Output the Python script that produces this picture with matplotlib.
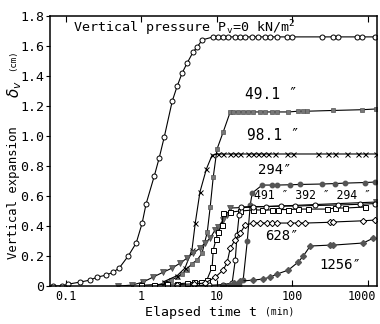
import matplotlib
matplotlib.use("Agg")
import matplotlib.pyplot as plt
import matplotlib.transforms as mtransforms

# P = 0 kN/m2 (open circles)
t_0 = [0.068, 0.09, 0.108, 0.156, 0.211, 0.261, 0.344, 0.426, 0.511, 0.673, 0.859,
       1.03, 1.16, 1.49, 1.73, 2.02, 2.58, 3.0, 3.49, 4.07, 4.88, 5.52, 6.43, 9.0,
       10.4, 12.2, 14.2, 17.6, 20.5, 23.8, 29.5, 35.5, 43.9, 51.1, 63.2, 85.9, 100,
       250, 349, 407, 726, 846, 1256]
d_0 = [0, 0, 0.013, 0.027, 0.04, 0.06, 0.073, 0.093, 0.12, 0.2, 0.287,
       0.42, 0.547, 0.733, 0.853, 0.993, 1.233, 1.333, 1.42, 1.487, 1.56, 1.593, 1.64, 1.66,
       1.66, 1.66, 1.66, 1.66, 1.66, 1.66, 1.66, 1.66, 1.66, 1.66, 1.66, 1.66, 1.66,
       1.66, 1.66, 1.66, 1.66, 1.66, 1.66]

# 49.1 kN/m2 (filled squares)
t_49 = [1.5, 2.0, 2.5, 3.0, 3.5, 4.0, 4.7, 5.5, 6.4, 7.5, 8.2, 9.0, 10.1, 12.2, 15.1,
        16.6, 19.2, 22.3, 25.8, 30.3, 37.6, 43.9, 54.3, 63.2, 88.8, 120, 140, 158, 350, 846, 1300]
d_49 = [0, 0.02, 0.04, 0.06, 0.08, 0.11, 0.15, 0.173, 0.22, 0.36, 0.527, 0.727, 0.913, 1.027, 1.16,
        1.16, 1.16, 1.16, 1.16, 1.16, 1.16, 1.16, 1.16, 1.16, 1.16, 1.165, 1.165, 1.165, 1.17, 1.175, 1.18]

# 98.1 kN/m2 (crosses)
t_98 = [2.0, 3.0, 3.8, 4.7, 5.2, 6.0, 7.3, 8.7, 10.4, 12.2, 15.1, 17.5, 20.5, 26.1, 30.5,
        35.5, 41.3, 48.0, 59.4, 85.9, 103, 220, 300, 370, 535, 745, 926, 1300]
d_98 = [0.03, 0.07, 0.12, 0.24, 0.42, 0.627, 0.78, 0.873, 0.88, 0.88, 0.88, 0.88, 0.88, 0.88, 0.88,
        0.88, 0.88, 0.88, 0.88, 0.88, 0.88, 0.88, 0.88, 0.88, 0.88, 0.88, 0.88, 0.88]

# 294 kN/m2, upper curve (small filled dots)
t_294a = [12, 15, 18, 20, 22.4, 25.4, 27.8, 29.5, 40, 54.3, 63.2, 94, 127, 250, 370, 505, 926, 1256]
d_294a = [0, 0, 0.005, 0.01, 0.04, 0.3, 0.54, 0.62, 0.673, 0.673, 0.673, 0.675, 0.677, 0.68,
          0.683, 0.686, 0.69, 0.693]

# 491 kN/m2 (filled inverted triangles)
t_491 = [0.5, 0.76, 1.06, 1.44, 1.96, 2.57, 3.28, 4.06, 4.88, 6.0, 7.0, 8.2, 9.5, 10.4, 12.2,
         13.8, 15.1, 1300]
d_491 = [0, 0.007, 0.027, 0.06, 0.093, 0.12, 0.153, 0.187, 0.22, 0.253, 0.287, 0.32, 0.373,
         0.393, 0.44, 0.473, 0.52, 0.56]

# 392 kN/m2 (open squares)
t_392 = [1.0, 1.5, 2.2, 3.0, 4.0, 5.0, 6.2, 7.4, 8.7, 9.0, 9.8, 10.4, 11.8, 12.2, 15.1, 20.5,
         30.5, 40, 54, 65, 89, 120, 163, 290, 370, 505, 926]
d_392 = [0.005, 0.01, 0.012, 0.015, 0.02, 0.025, 0.03, 0.04, 0.127, 0.24, 0.313, 0.36, 0.407,
         0.487, 0.493, 0.5, 0.507, 0.507, 0.507, 0.51, 0.51, 0.513, 0.513, 0.513, 0.52, 0.52, 0.527]

# 294 kN/m2, lower curve (open circles)
t_294b = [5, 8, 12, 16, 17.6, 18.6, 19.8, 21.1, 30, 45, 70, 110, 200, 400, 800, 1256]
d_294b = [0.005, 0.005, 0.01, 0.02, 0.173, 0.34, 0.473, 0.527, 0.53, 0.53, 0.533, 0.533,
          0.537, 0.54, 0.545, 0.55]

# 628 kN/m2 (open diamonds)
t_628 = [3, 5, 7, 9.6, 12.2, 13.8, 15.1, 17.5, 20.5, 23.8, 30.5, 37.6, 46.5, 54.3, 63.2, 94,
         120, 149, 318, 349, 870, 1256]
d_628 = [0.01, 0.015, 0.02, 0.06, 0.107, 0.16, 0.253, 0.307, 0.353, 0.407, 0.42, 0.42, 0.42,
         0.42, 0.42, 0.42, 0.42, 0.42, 0.425, 0.427, 0.435, 0.44]

# 1256 kN/m2 (filled diamonds)
t_1256 = [12, 15, 17, 20.5, 30.5, 41, 51, 63, 89, 120, 140, 173, 318, 350, 870, 1190]
d_1256 = [0.0, 0.01, 0.02, 0.033, 0.04, 0.047, 0.06, 0.08, 0.107, 0.16, 0.2, 0.267, 0.273,
          0.273, 0.287, 0.32]

mono = "DejaVu Sans Mono"
plt.rcParams["font.family"] = mono

fig = plt.figure(figsize=(3.8, 3.24), dpi=100)
ax = fig.add_axes([0.132, 0.117, 0.861, 0.834])

lw = 0.8
ax.plot(t_0, d_0, "-o", color="black", lw=lw, ms=3.6, mfc="white", mew=0.7)
ax.plot(t_49, d_49, "-s", color="black", lw=lw, ms=3.4, mfc="#777777", mec="#555555", mew=0.5)
ax.plot(t_98, d_98, "-x", color="black", lw=lw, ms=3.6, mew=0.7)
ax.plot(t_294a, d_294a, "-o", color="black", lw=lw, ms=3.2, mfc="#555555", mec="#555555")
ax.plot(t_491, d_491, "-v", color="black", lw=lw, ms=4, mfc="#666666", mec="#444444", mew=0.5)
ax.plot(t_392, d_392, "-s", color="black", lw=lw, ms=3.6, mfc="white", mew=0.7)
ax.plot(t_294b, d_294b, "-o", color="black", lw=lw, ms=3.6, mfc="white", mew=0.7)
ax.plot(t_628, d_628, "-D", color="black", lw=lw, ms=3.2, mfc="white", mew=0.7)
ax.plot(t_1256, d_1256, "-D", color="black", lw=lw, ms=3.0, mfc="#555555", mec="#555555")

ax.set_xscale("log")
ax.set_xlim(0.0623, 1340)
ax.set_ylim(0, 1.8)
ax.set_xticks([0.1, 1, 10, 100, 1000])
ax.set_xticklabels(["0.1", "1", "10", "100", "1000"])
ax.set_yticks([0, 0.2, 0.4, 0.6, 0.8, 1.0, 1.2, 1.4, 1.6, 1.8])
ax.set_yticklabels(["0", "0.2", "0.4", "0.6", "0.8", "1.0", "1.2", "1.4", "1.6", "1.8"])
ax.minorticks_off()
ax.tick_params(axis="x", direction="in", top=True, length=4, labelsize=8.5, pad=3)
ax.tick_params(axis="y", direction="out", length=3, labelsize=9.5, pad=1)
for s in ax.spines.values():
    s.set_linewidth(1.1)

# nudge the "1000" label so it stays inside the figure
last = ax.get_xticklabels()[-1]
last.set_transform(last.get_transform() +
                   mtransforms.ScaledTranslation(-4 / 72, 0, fig.dpi_scale_trans))

ax.text(0.125, 1.655, r"Vertical pressure P$_\mathregular{v}$=0 kN/m$^\mathregular{2}$",
        fontsize=9.6, va="bottom")
ax.text(23.5, 1.225, "49.1 \u2033", fontsize=10.5, va="bottom")
ax.text(25.5, 0.95, "98.1 \u2033", fontsize=10.5, va="bottom")
ax.text(35, 0.725, "294\u2033", fontsize=10, va="bottom")
ax.text(31, 0.56, "491 \u2033 392 \u2033 294 \u2033", fontsize=8.3, va="bottom")
ax.text(44, 0.29, "628\u2033", fontsize=10, va="bottom")
ax.text(228, 0.093, "1256\u2033", fontsize=10, va="bottom")

fig.text(0.676, 0.026, "Elapsed time t", fontsize=9.5, ha="right")
fig.text(0.697, 0.03, "(min)", fontsize=7, ha="left")
fig.text(0.018, 0.405, "Vertical expansion", fontsize=8.8, rotation=90, ha="left", va="center")
fig.text(0.014, 0.725, r"$\delta_v$", fontsize=11, rotation=90, ha="left", va="center")
fig.text(0.022, 0.815, "(cm)", fontsize=6.5, rotation=90, ha="left", va="center")

fig.savefig("out.png", dpi=100)
